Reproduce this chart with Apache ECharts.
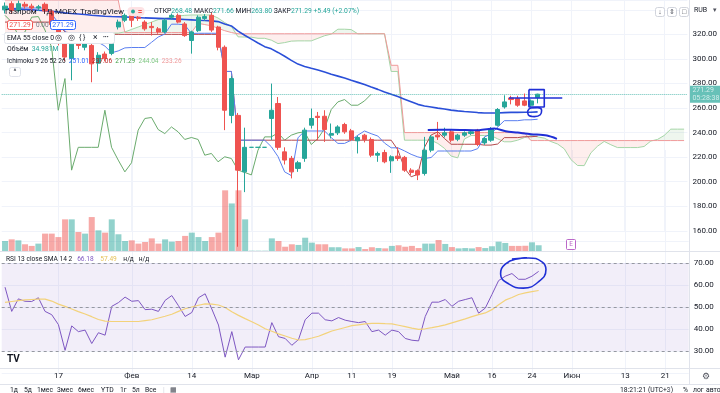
<!DOCTYPE html>
<html><head><meta charset="utf-8">
<script src="https://cdn.jsdelivr.net/npm/echarts@6/dist/echarts.min.js"></script>
<style>html,body{margin:0;padding:0;background:#fff}#c{width:720px;height:393px}</style>
</head><body><div id="c"></div><script>
// ---------- DATA ----------
const dates = ['2022-01-04','2022-01-05','2022-01-06','2022-01-10','2022-01-11','2022-01-12','2022-01-13','2022-01-14','2022-01-17','2022-01-18',
'2022-01-19','2022-01-20','2022-01-21','2022-01-24','2022-01-25','2022-01-26','2022-01-27','2022-01-28','2022-01-31','2022-02-01',
'2022-02-02','2022-02-03','2022-02-04','2022-02-07','2022-02-08','2022-02-09','2022-02-10','2022-02-11','2022-02-14','2022-02-15',
'2022-02-16','2022-02-17','2022-02-18','2022-02-21','2022-02-22','2022-02-24','2022-02-25','2022-03-01','2022-03-02','2022-03-03',
'2022-03-24','2022-03-25','2022-03-28','2022-03-29','2022-03-30','2022-03-31','2022-04-01','2022-04-04','2022-04-05','2022-04-06',
'2022-04-07','2022-04-08','2022-04-11','2022-04-12','2022-04-13','2022-04-14','2022-04-15','2022-04-18','2022-04-19','2022-04-20',
'2022-04-21','2022-04-22','2022-04-25','2022-04-26','2022-04-27','2022-04-28','2022-04-29','2022-05-04','2022-05-05','2022-05-06',
'2022-05-11','2022-05-12','2022-05-13','2022-05-16','2022-05-17','2022-05-18','2022-05-19','2022-05-20','2022-05-23','2022-05-24',
'2022-05-25','2022-05-26','2022-05-27','2022-05-30','2022-05-31','2022-06-01','2022-06-02','2022-06-03','2022-06-06','2022-06-07',
'2022-06-08','2022-06-09','2022-06-10','2022-06-13','2022-06-14','2022-06-15','2022-06-16','2022-06-17','2022-06-20','2022-06-21',
'2022-06-22','2022-06-23','2022-06-24'];
const tickIdx  = [8,19,28,37,46,52,58,67,73,79,85,93,99];
const tickText = ['17','Фев','14','Мар','Апр','11','19','Май','16','24','Июн','13','21'];
const priceTicks = [160,180,200,220,240,260,280,300,320];

const open = [340,345,339.5,344.5,343,341.5,344.5,339,328,312.5,
300.5,312.5,309.5,311,296.5,304,304.5,326,331.5,335.5,
334,330,326.5,324.5,322,334,335.5,328.5,315,323,
333,335.5,326,309.5,254,254,208,228,228,228,
251.5,263.7,224.3,219,210.8,219,246,253.3,253.3,237.9,
239.8,246.6,241.4,233.3,237.9,234.4,221.6,223.8,217,220.8,
219.8,209.4,208.9,206.7,225.7,237.9,237.9,240.6,234.6,237.9,
239.3,242,231.6,233.8,246,260.9,268.2,267.7,265.8,262.3,
268.48];
const close = [343,339.5,345,343,341.5,342.5,339,328,313.5,301.5,
312,311,312.5,296,303,300.5,317.5,330,335.5,331.5,
333,324.5,325.5,322,331.5,335.5,330,319,322,334,
334.5,323.5,309.5,258.2,284,209.4,228,228,228,228,
258.2,228,217.6,208,215.4,242,251.5,252.3,242.5,239.2,
244.6,240.6,234.4,236,234.4,221.6,223,216.2,220.3,218.9,
209.4,207.6,205.5,225.7,236.5,236.5,239.8,233.8,237.9,239.8,
240.6,230.3,235.2,243.3,258.8,265,266.9,262.3,262.3,265.8,
271.29];
const low = [337,337,338,341,339,339,337,326,311,298,
282.6,308,307,281,289.5,298,303,324,330,326,
331,323,319,320.5,321,332,329,318,304.3,322,
331,322,307,242,247.6,147,191.5,228,228,228,
233.8,226,214,202.7,208,216.2,243.3,233.8,232.4,235.2,
238,239,233,223,232,220,216.2,215,207.2,217,
208,205.5,201.3,205,224,234,236,232,233,236.5,
238,229,230,232.5,245,259.5,263,261,261.5,261,
263.8];
const high = [346,347,347.5,346.5,345,344,346,340,329,314,
314,315,315,313,305.5,306,319,332,337,337.5,
336,331.5,330,326,333,337,337,330,323,335.5,
336.5,337.5,327,311,286,256,244,228,228,228,
279.9,269,228,221,217,244,259.6,256.8,258.2,247.4,
246,248,243,237.5,239,236,224.5,226,221.5,228,
221,211,210,236.5,238,248.7,244,242,239,241,
242,243,236.5,244.5,260,270.4,270,270,271.8,267,
271.66];
const volume = [61,71,65,41,31,45,106,106,85,193,
193,116,106,207,126,112,193,102,61,65,
45,55,77,45,71,57,61,92,112,85,
61,85,112,370,290,370,193,2,2,2,
77,61,26,41,37,81,51,41,41,23,
23,16,16,24,12,23,18,16,31,35,
26,31,18,45,45,67,43,24,16,18,
16,24,18,29,57,49,31,31,32,53,
34.981];
const ema55 = [341,340.8,340.6,340.3,340,339.7,339.3,338.8,338.2,337.5,
337,336.6,336.2,335.6,335.2,334.8,334.5,334.3,334.1,333.9,
333.7,333.4,333.2,333,332.8,332.6,332.4,332.1,331.8,331.5,
331.3,331,330.4,328.5,326.9,322.7,319.3,316.1,313,310,
308.2,305.3,302.2,298.8,295.8,293.9,292.4,291,289.3,287.5,
286,284.4,282.6,280.9,279.2,277.1,275.2,273.1,271.2,269.3,
267.2,265.1,263,261.7,260.8,259.9,259.2,258.3,257.7,257.2,
256.8,256.3,256,255.9,256,256.3,256.5,256.5,256.6,256.6,
256.9];
const tenkan = [340.5,341,341.5,341.5,341.5,341.5,341.5,336.8,329.3,322.8,
315,314.6,314.3,313.5,313.5,310.5,305,306.5,309,309.3,
309.3,309.3,313.5,317.8,320.3,328.3,328.3,327.8,320.7,320.9,
320.9,320.9,320.9,289.8,289.8,233.8,233.8,233.8,233.8,233.8,
228.5,220.5,208,205,235.7,241.3,241.3,241.3,241.3,235.9,
231.2,231.2,233.8,237.9,241.3,239.1,237.2,231.5,227.6,227.6,
225.1,222.3,220.2,218.9,219.7,225,225,225,225,225,
225,226.9,236.4,238.9,244.5,249.7,249.7,249.7,250.4,250.4,
250.9];
const kijun = [330,330,330,330,330,330,330,330,328,322,
321,321,321,320,320,320,320,320,320,320,
320,320,320,320,320,320,320,320,320,320,
320,320,320,289.8,289.8,233.8,233.8,233.8,233.8,233.8,
233.8,233.8,233.8,233.8,233.8,233.8,233.8,233.8,233.8,233.8,
233.8,233.8,233.8,233.8,233.8,233.8,233.8,233.8,233.8,226,
211,204,206,228,238,240.6,235.2,230.5,230.5,230.5,
230.5,230.5,229.8,229.8,230.7,235.9,235.9,235.9,236.6,236.6,
237.06];
const leadA = [321,321,321,321,321,321,321,321,321,321,321,321,321,321,321,321,321,321,
322,324,326,328,330,332,333,334,335,335.5,335.8,
335.8,335.8,335.8,333.3,329.6,326.4,318,
317.8,317.7,316.8,316.8,315.3,312.5,313.3,314.5,314.7,314.7,314.7,316.8,318.9,320.2,324.2,324.2,323.9,320.4,320.5,320.5,320.5,320.5,
289.8,289.8,
233.8,233.8,233.8,233.8,233.8,
231.2,227.2,220.9,219.4,234.8,237.6,237.6,237.6,237.6,234.9,232.5,232.5,233.8,235.9,237.6,
236.5,235.5,232.7,230.7,226.8,218,213.2,213.1,223.5,228.9,232.8,230.1,227.8,227.8,227.8,227.8,228.7,233.1,234.4,237.6,242.8,242.8,242.8];
const leadB = [348,348,348,348,348,348,348,348,348,348,348,348,348,348,348,348,348,348,
321.5,321.5,321.5,321.5,321.5,321.5,321.5,321.5,321.5,321.5,321.5,
329,328,327,325,323,321.5,320.5,
320.5,320.5,320.5,320.5,320.5,320.5,320.5,320.5,320.5,320.5,320.5,320.5,320.5,320.5,320.5,320.5,320.5,320.5,320.5,320.5,320.5,320.5,
294.8,294.8,
240,240,240,240,240,240,240,240,240,240,240,240,240,240,240,240,240,240,240,
233.5,233.5,233.5,233.5,233.5,233.5,233.5,233.5,233.5,233.5,233.5,233.5,233.5,233.5,233.5,233.5,233.5,233.5,233.5,233.5,233.5,233.5,233.5,233.5];
const rsi = [59,48,53.7,52.6,52.5,54.2,48,46.5,42,30.3,
41.4,38.8,39.5,33.4,38.3,37.2,50.3,52,54.5,52.6,
52.9,48.8,49,48,53,55.2,50.6,45.7,47.5,54.2,
56,49.1,41.8,27.2,38.8,26,31.8,31.8,31.8,31.8,
42.9,36.5,35.7,32.6,35.2,44.2,47.2,47.2,44.2,43.7,
45.2,44,43.4,42.9,43.4,38.8,39.5,37.2,39.5,38.8,
35.7,34.9,34.6,45.7,52.2,52.2,53.4,50.3,52.6,53.4,
54.2,47.2,49.5,55.7,62,64,65.2,62.6,62.6,64,
66.18];
const rsiSma = [52.1,52.5,52.9,53.2,53.4,53.6,53.6,52.7,51.3,50.3,
49.1,47.9,46.8,45.6,44.3,43.6,43.4,43.4,43.4,43.4,
43.4,43.8,44.2,45,45.8,46.7,48,49.2,50,50.8,
51.4,51.3,50.9,49.8,47.8,46.2,44.7,43.3,41.8,40.1,
39,37.8,36.8,35.8,35,35.2,35.9,36.7,37.9,39.1,
39.9,40.7,41.5,41.9,42.3,42.6,42.6,42.4,42.3,41.7,
41.1,40.4,39.8,40.1,40.6,41.2,41.9,42.8,43.7,44.6,
45.6,46.5,47.3,48.8,51,53.1,54.3,55.7,56.4,57,
57.49];
// hand-drawn user annotations (bar index, price / RSI)
const drawHLine = [[75.7,268.2],[83.7,268.2]];
const drawRect = [[78.7,275],[81,275],[81,260.9],[78.7,260.9],[78.7,275]];
const drawEllipse = [[78.5,257.5],[79,260],[80,260.3],[80.6,258],[80.4,254.5],[79.5,253],[78.6,254.5],[78.5,257.5]];
const drawCurve = [[63.5,242.2],[67,242.4],[71.2,242],[73.5,243.3],[75.2,241.1],[77,240],[79,238.7],[81.4,237.6],[82.9,234.9]];
const drawRsiCircle = [[76,71.8],[78.5,72.3],[80.5,70.5],[81.1,67],[80,61.5],[77.7,58.6],[75.5,60.5],[74.3,65],[75,69.5],[77,72],[78.2,72.4]];

// ---------- BUILD ----------
const FF = 'Roboto';
const TXT = '#131722';
const UP = '#26a69a', DN = '#ef5350';
const GRID_C = '#f0f3fa';
const tickSet = new Set(tickIdx);
const tickMap = {}; tickIdx.forEach((k,i)=>tickMap[k]=tickText[i]);

const candleData = open.map((o,i)=>[o, close[i], low[i], high[i]]);
const volData = volume.map((v,i)=>({value:v, itemStyle:{color: close[i]>=open[i] ? 'rgba(38,166,154,0.5)' : 'rgba(239,83,80,0.5)'}}));
const chikou = close.slice(25);
const cloudBase = leadA.map((a,i)=>Math.min(a, leadB[i]));
const cloudUp = leadA.map((a,i)=>Math.max(a-leadB[i],0));
const cloudDn = leadA.map((a,i)=>Math.max(leadB[i]-a,0));

const GL = 1.7, GR = 31.3;
const xCat = (gi, labels) => ({
  type:'category', gridIndex:gi, data:dates, boundaryGap:true,
  axisLine:{show:false}, axisTick:{show:false},
  axisLabel: labels ? {show:true, interval:(i)=>tickSet.has(i), formatter:(v,i)=>tickMap[i]||'',
     fontSize:8, color:TXT, fontFamily:FF, margin:3, verticalAlign:'middle'} : {show:false},
  splitLine:{show:true, alignWithLabel:true, interval:(i)=>tickSet.has(i), lineStyle:{color:GRID_C, width:1}}
});
const lineS = (name, data, color, width, xi, yi, extra) => Object.assign({
  name, type:'line', data, xAxisIndex:xi||0, yAxisIndex:yi||0, symbol:'none', silent:true,
  lineStyle:{color, width:width||1}, itemStyle:{color}, z:3
}, extra||{});
const drawS = (data, xi, yi, w, smooth) => ({type:'line', data, xAxisIndex:xi, yAxisIndex:yi, symbol:'none', silent:true, smooth:smooth||false,
  lineStyle:{color:'#1f2fd6', width:w||1.6}, z:10});

function T(x, y, text, size, color, weight, align) {
  return {type:'text', x, y, z:100, silent:true,
    style:{text, fill:color||TXT, fontSize:size||8, fontFamily:FF, fontWeight:weight||'normal', verticalAlign:'middle', align:align||'left'}};
}
// rich text run: parts = [[text,color],...]
function RT(x, y, parts, size) {
  const rich = {}; let s = '';
  parts.forEach((p,i)=>{ rich['p'+i] = {fill:p[1]||TXT, fontSize:size, fontFamily:FF}; s += '{p'+i+'|'+p[0]+'}'; });
  return {type:'text', x, y, z:100, silent:true, style:{text:s, rich, fontSize:size, fontFamily:FF, verticalAlign:'middle', align:'left'}};
}
function R(x,y,w,h,stroke,fill,r){ return {type:'rect', z:99, silent:true, shape:{x,y,width:w,height:h,r:r||0}, style:{stroke, fill:fill||'none', lineWidth:1}}; }
function L(x1,y1,x2,y2,color){ return {type:'line', z:98, silent:true, shape:{x1,y1,x2,y2}, style:{stroke:color||'#e0e3eb', lineWidth:1}}; }

const graphics = [
  L(689.5,0,689.5,384.5), L(0,251.5,720,251.5), L(0,368.5,720,368.5), L(0,384.5,720,384.5),
  // top right buttons & currency
  R(655.5,7.5,9,9,'#d1d4dc','#fff',2), T(660,12,'↓',7,'#50535e',null,'center'),
  R(667.5,7.5,9,9,'#d1d4dc','#fff',2), T(672,12,'⇕',7,'#50535e',null,'center'),
  R(679.5,7.5,9,9,'#d1d4dc','#fff',2), T(684,12,'□',7,'#50535e',null,'center'),
  T(694,10,'RUB',7,TXT), T(713,10,'▾',7,'#50535e'),
  // legend row 1
  T(5,11.7,'Газпром',8,TXT), T(42,11.7,'1Д',8,TXT), T(55,11.7,'MOEX',8,TXT), T(80,11.7,'TradingView',8,TXT),
  R(127.5,7,17,9,'rgba(0,0,0,0)','#fde2e4',4),
  {type:'circle', z:100, silent:true, shape:{cx:133,cy:11.5,r:2}, style:{fill:UP}},
  T(140,11.5,'=',8,DN,'bold','center'),
  RT(154,11.7,[['ОТКР',TXT],['268.48 ',UP],['МАКС',TXT],['271.66 ',UP],['МИН',TXT],['263.80 ',UP],['ЗАКР',TXT],['271.29 +5.49 (+2.07%)',UP]],6.8),
  // legend row 2
  R(7.5,20.5,25,9,DN,'#fff',2), T(20,25,'271.29',7,DN,null,'center'),
  T(36,25,'0.00',6.5,'#787b86'),
  R(50.5,20.5,25,9,'#2962ff','#fff',2), T(63,25,'271.29',7,'#2962ff',null,'center'),
  // EMA row (white box)
  R(4.5,32.5,110,11,'#e0e3eb','#fff',2),
  T(7,38,'EMA 55 close 0',6.8,TXT), T(55,38,'◎',8,TXT), T(68,38,'◎',8,TXT), T(79,38,'{ }',7,TXT), T(93,38,'×',8.5,TXT), T(103,38,'•••',5.5,TXT),
  // volume row
  RT(7,49.5,[['Объём  ',TXT],['34.981M',UP]],6.8),
  // Ichimoku row
  RT(7,61,[['Ichimoku 9 26 52 26  ',TXT],['251.01  ','#2962ff'],['237.06  ','#b71c1c'],['271.29  ','#43a047'],['244.04  ','#81c784'],['233.26','#ef9a9a']],6.5),
  R(9.5,67.5,11,9,'#e0e3eb','#fff',2), T(15,72.5,'^',7,TXT,null,'center'),
  // event marker
  R(566.5,239.5,9,10,'#ba68c8','#fff',1), T(571,244.5,'E',6.5,'#ba68c8',null,'center'),
  // RSI legend
  RT(6,259.5,[['RSI 13 close SMA 14 2   ',TXT],['66.18    ','#7e57c2'],['57.49    ','#e6c35c'],['н/д   н/д',TXT]],6.6),
  // logo
  T(7,359,'TV',10,'#131722','bold'),
  // time axis gear
  T(706,376.5,'⚙',9,'#50535e',null,'center'),
  // bottom toolbar
  T(10,390,'1д',6.8,TXT), T(24,390,'5д',6.8,TXT), T(37,390,'1мес',6.8,TXT), T(57,390,'3мес',6.8,TXT), T(78,390,'6мес',6.8,TXT),
  T(101,390,'YTD',6.8,TXT), T(120,390,'1г',6.8,TXT), T(132,390,'5л',6.8,TXT), T(145,390,'Все',6.8,TXT),
  T(163,390,'|',7,'#d1d4dc'), T(170,390,'▦',7,'#50535e'),
  T(620,390,'18:21:21 (UTC+3)',6.8,TXT), T(669,390,'|',7,'#d1d4dc'),
  T(683,390,'%',6.8,TXT), T(693,390,'лог',6.8,TXT), T(706,390,'авто',6.8,TXT)
];

const option = {
  animation:false,
  backgroundColor:'#ffffff',
  textStyle:{fontFamily:FF},
  grid:[
    {left:GL, right:GR, top:0, height:230.8},
    {left:GL, right:GR, top:150, height:101},
    {left:GL, right:GR, top:241, height:132}
  ],
  xAxis:[
    xCat(0,false), xCat(1,false), xCat(2,true),
    {type:'value', gridIndex:0, min:-0.5, max:102.5, show:false},
    {type:'value', gridIndex:2, min:-0.5, max:102.5, show:false}
  ],
  yAxis:[
    {type:'value', gridIndex:0, position:'right', min:160, max:348, interval:20,
     axisLine:{show:false}, axisTick:{show:false},
     axisLabel:{formatter:(v)=>priceTicks.includes(v)? v.toFixed(2):'', fontSize:8, color:TXT, fontFamily:FF, margin:5},
     splitLine:{lineStyle:{color:GRID_C}}},
    {type:'value', gridIndex:1, min:0, max:616, show:false},
    {type:'value', gridIndex:2, position:'right', min:20, max:80, interval:10,
     axisLine:{show:false}, axisTick:{show:false},
     axisLabel:{formatter:(v)=>(v>=30&&v<=70)? v.toFixed(2):'', fontSize:8, color:TXT, fontFamily:FF, margin:5},
     splitLine:{lineStyle:{color:GRID_C}}}
  ],
  series:[
    lineS('cloudBase', cloudBase, 'rgba(0,0,0,0)', 0, 0, 0, {stack:'cloud', lineStyle:{opacity:0}, z:1}),
    lineS('cloudUp', cloudUp, 'rgba(0,0,0,0)', 0, 0, 0, {stack:'cloud', lineStyle:{opacity:0}, areaStyle:{color:'rgba(67,160,71,0.13)'}, z:1}),
    lineS('cloudDn', cloudDn, 'rgba(0,0,0,0)', 0, 0, 0, {stack:'cloud', lineStyle:{opacity:0}, areaStyle:{color:'rgba(244,67,54,0.13)'}, z:1}),
    lineS('Lead 1', leadA, '#a5d6a7', 1),
    lineS('Lead 2', leadB, '#ef9a9a', 1),
    lineS('Chikou', chikou, '#6aab6d', 1),
    lineS('Kijun', kijun, '#b5494b', 1),
    lineS('Tenkan', tenkan, '#5b7ff0', 1),
    lineS('EMA 55', ema55, '#2a4fd8', 1.6),
    {name:'Газпром', type:'candlestick', data:candleData, xAxisIndex:0, yAxisIndex:0, barWidth:4.6, z:5, silent:true, clip:true,
     itemStyle:{color:UP, color0:DN, borderColor:UP, borderColor0:DN, borderWidth:1},
     markLine:{silent:true, symbol:'none', animation:false,
       lineStyle:{type:'dotted', color:UP, width:1, opacity:0.7},
       label:{show:true, position:'end', distance:2, formatter:'271.29\n05:28:38', backgroundColor:UP, color:'#fff',
              fontSize:7, lineHeight:7.5, padding:[1,3,1,3], fontFamily:FF},
       data:[{yAxis:271.29}]}},
    {name:'Объём', type:'bar', data:volData, xAxisIndex:1, yAxisIndex:1, barWidth:6, silent:true, z:2},
    lineS('RSI', rsi, '#7e57c2', 1, 2, 2, {
      markArea:{silent:true, itemStyle:{color:'rgba(126,87,194,0.1)'}, data:[[{yAxis:30},{yAxis:70}]]},
      markLine:{silent:true, symbol:'none', label:{show:false}, lineStyle:{type:[3,3], color:'#9598a1', width:1},
        data:[{yAxis:70},{yAxis:50},{yAxis:30}]}
    }),
    lineS('RSI SMA', rsiSma, '#f3d27a', 1.2, 2, 2),
    drawS(drawHLine, 3, 0, 1.6),
    drawS(drawRect, 3, 0, 1.6),
    drawS(drawEllipse, 3, 0, 1.6, 0.5),
    drawS(drawCurve, 3, 0, 2, 0.3),
    drawS(drawRsiCircle, 4, 2, 1.6, 0.5)
  ],
  graphic: graphics
};
const chart = echarts.init(document.getElementById('c'), null, {renderer:'canvas', width:720, height:393});
chart.setOption(option);
</script></body></html>
